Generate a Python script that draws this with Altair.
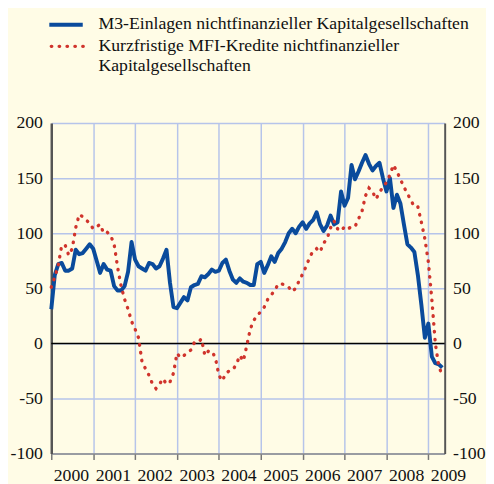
import altair as alt
import pandas as pd

# Monthly observations, Jan 2000 .. May 2009
months = pd.date_range("2000-01-01", "2009-05-01", freq="MS")

m3_einlagen = [
    31, 62, 72, 73, 66, 66, 68, 85, 81, 82, 86, 90,      # 2000
    86, 75, 64, 72, 67, 66, 52, 48, 48, 52, 65, 92,      # 2001
    76, 70, 68, 66, 73, 72, 68, 70, 77, 85, 55, 33,      # 2002
    32, 37, 42, 39, 51, 53, 54, 61, 60, 63, 67, 65,      # 2003
    66, 73, 76, 66, 58, 55, 59, 56, 55, 53, 53, 72,      # 2004
    74, 64, 71, 79, 74, 82, 86, 92, 100, 104, 100, 106,  # 2005
    110, 104, 109, 112, 119, 108, 102, 107, 116, 108, 110, 138,  # 2006
    125, 132, 162, 149, 156, 164, 171, 163, 157, 161, 164, 150,  # 2007
    138, 150, 123, 135, 127, 108, 90, 87, 83, 62, 35, 5,         # 2008
    18, -12, -18, -19, -22,                                       # 2009
]

kurzfristige_kredite = [
    51, 60, 71, 89, 89, 80, 86, 105, 117, 115, 112, 109,   # 2000
    104, 106, 108, 100, 101, 98, 90, 69, 52, 40, 31, 20,   # 2001
    13, 5, -17, -23, -29, -37, -41, -37, -32, -37, -35, -27,  # 2002
    -9, -13, -11, -8, -6, 1, 1, 4, -11, -7, -7, -13,       # 2003
    -29, -34, -27, -25, -24, -19, -11, -16, -2, 13, 21, 25,  # 2004
    29, 33, 40, 44, 48, 54, 54, 53, 51, 47, 50, 57,        # 2005
    63, 70, 78, 84, 86, 83, 91, 95, 105, 111, 104, 102,    # 2006
    106, 104, 106, 106, 113, 120, 134, 141, 138, 131, 137, 142,  # 2007
    146, 153, 162, 156, 149, 142, 136, 130, 124, 124, 110, 95,   # 2008
    74, 40, 0, -21, -29,                                          # 2009
]

y_ticks = [-100, -50, 0, 50, 100, 150, 200]
year_ticks = [2000, 2001, 2002, 2003, 2004, 2005, 2006, 2007, 2008, 2009]

legend_m3 = "M3-Einlagen nichtfinanzieller Kapitalgesellschaften"
legend_kr_1 = "Kurzfristige MFI-Kredite nichtfinanzieller"
legend_kr_2 = "Kapitalgesellschaften"

BLUE = "#0a4b9c"
RED = "#d0342c"
GRID = "#b6c4ea"
BG = "#fffce6"
SERIF = "'Liberation Serif', 'Times New Roman', Times, serif"
FS = 18

df = pd.DataFrame({
    "t": months.year + (months.month - 1) / 12.0,
    "m3": m3_einlagen,
    "kr": kurzfristige_kredite,
})

xs = alt.Scale(domain=[2000, 2009.39], nice=False, zero=False)
ys = alt.Scale(domain=[-100, 200], nice=False, zero=False)

x_axis = alt.Axis(
    values=year_ticks, format="d", title=None, orient="bottom",
    grid=True, gridColor=GRID, gridWidth=1.5,
    ticks=True, tickSize=6, tickColor="#777777", tickWidth=1.5,
    domainColor="#8a8a8a", domainWidth=1.5,
    labelAlign="left", labelOffset=2, labelBaseline="top", labelPadding=7,
    labelFont=SERIF, labelFontSize=FS, labelColor="#111111",
    labelOverlap=False, labelFlush=False,
)

left_axis = alt.Axis(
    values=y_ticks, title=None, orient="left",
    grid=True, gridColor=GRID, gridWidth=1.5,
    ticks=False, domainColor="#555555", domainWidth=2.5,
    labelExpr="'' + datum.value",
    labelPadding=9, labelFont=SERIF, labelFontSize=FS, labelColor="#111111",
)

right_axis = alt.Axis(
    values=y_ticks, title=None, orient="right", grid=False,
    ticks=False, domainColor="#555555", domainWidth=2,
    labelExpr="datum.value < 0 ? '' + datum.value : '\u00a0' + datum.value",
    labelAlign="left",
    labelPadding=8, labelFont=SERIF, labelFontSize=FS, labelColor="#111111",
)

zero = alt.Chart(pd.DataFrame({"v": [0]})).mark_rule(
    color="#000000", strokeWidth=1.5
).encode(y=alt.Y("v:Q", scale=ys, axis=right_axis))

blue = alt.Chart(df).mark_line(
    color=BLUE, strokeWidth=4, strokeJoin="round"
).encode(
    x=alt.X("t:Q", scale=xs, axis=x_axis),
    y=alt.Y("m3:Q", scale=ys, axis=left_axis),
)

red = alt.Chart(df).mark_line(
    color=RED, strokeWidth=3.4, strokeDash=[0.5, 7.5], strokeCap="round"
).encode(
    x=alt.X("t:Q", scale=xs, axis=x_axis),
    y=alt.Y("kr:Q", scale=ys, axis=None),
)

one = pd.DataFrame({"a": [0]})
leg_line = alt.Chart(one).mark_rule(color=BLUE, strokeWidth=4).encode(
    x=alt.value(-2), x2=alt.value(32), y=alt.value(-100))
leg_dots = alt.Chart(one).mark_rule(
    color=RED, strokeWidth=3.4, strokeDash=[0.5, 7.5], strokeCap="round"
).encode(x=alt.value(0), x2=alt.value(33), y=alt.value(-78))

def leg_text(txt, y):
    return alt.Chart(one).mark_text(
        align="left", baseline="middle", font=SERIF, fontSize=FS, color="#111111"
    ).encode(x=alt.value(48), y=alt.value(y), text=alt.value(txt))

chart = alt.layer(
    zero, blue, red, leg_line, leg_dots,
    leg_text(legend_m3, -100.5), leg_text(legend_kr_1, -78), leg_text(legend_kr_2, -57.5),
).resolve_scale(y="independent").properties(
    width=400, height=336,
    autosize=alt.AutoSizeParams(type="none"),
    padding={"left": 44, "top": 113, "right": 42, "bottom": 30},
    background=BG,
).configure(font=SERIF).configure_view(stroke=None)

chart.save("out.html", embed_options={"renderer": "svg", "actions": False})
